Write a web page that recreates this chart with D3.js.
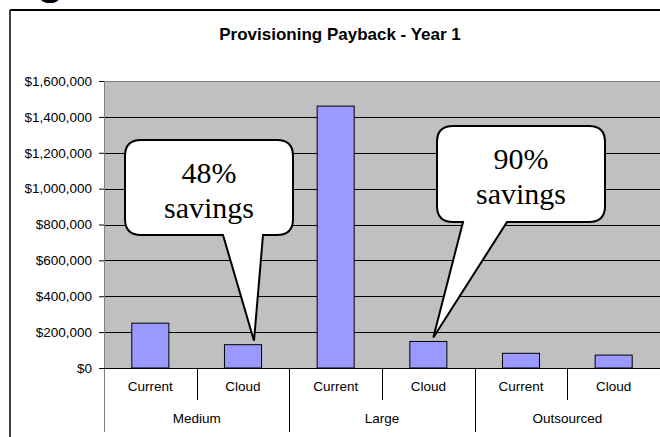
<!DOCTYPE html>
<html><head><meta charset="utf-8">
<script src="https://cdn.jsdelivr.net/npm/d3@7"></script>
<style>body{margin:0;background:#fff}svg{display:block}</style>
</head><body>
<svg id="chart" width="660" height="437"></svg>
<script>
const categories = ["Current","Cloud","Current","Cloud","Current","Cloud"];
const groups = ["Medium","Large","Outsourced"];
const values = [250000,130000,1460000,148000,82000,72000];
const yTicks = [0,200000,400000,600000,800000,1000000,1200000,1400000,1600000];
const title = "Provisioning Payback - Year 1";
const calloutBars = [1,3];
const calloutLines = [["48%","savings"],["90%","savings"]];

const svg = d3.select("#chart");
const W = 660, H = 437;
const L = 104, R = 660, T = 81, B = 368;
const sans = "'Liberation Sans', Arial, sans-serif";

// partial slide title glyph at the very top
svg.append("text").attr("x",37).attr("y",-6).attr("font-family",sans).attr("font-weight","bold")
  .attr("font-size",44).attr("fill","#000").text("g");

// chart frame
svg.append("line").attr("x1",10).attr("x2",W).attr("y1",10).attr("y2",10).attr("stroke","#000").attr("stroke-width",2);
svg.append("line").attr("x1",10).attr("x2",10).attr("y1",10).attr("y2",H).attr("stroke","#000").attr("stroke-width",1.5);

svg.append("text").attr("x",340).attr("y",40).attr("text-anchor","middle")
  .attr("font-family",sans).attr("font-weight","bold").attr("font-size",17).text(title);

const x = d3.scaleBand().domain(d3.range(categories.length)).range([L,R]).padding(0);
const y = d3.scaleLinear().domain([0,1600000]).range([B,T]);

svg.append("rect").attr("x",L).attr("y",T).attr("width",R-L).attr("height",B-T).attr("fill","#c0c0c0");
svg.append("line").attr("x1",L).attr("x2",R).attr("y1",T+0.5).attr("y2",T+0.5).attr("stroke","#808080");

// gridlines
svg.append("g").selectAll("line").data(yTicks.filter(d=>d>0 && d<1600000)).join("line")
  .attr("x1",L).attr("x2",R).attr("y1",d=>Math.round(y(d))+0.5).attr("y2",d=>Math.round(y(d))+0.5)
  .attr("stroke","#000").attr("stroke-width",1);

// y axis
const yAxis = d3.axisLeft(y).tickValues(yTicks).tickSize(5).tickPadding(7)
  .tickFormat(d=>"$"+d3.format(",")(d));
const ya = svg.append("g").attr("transform",`translate(${L},0)`).call(yAxis);
ya.select(".domain").remove();
ya.selectAll(".tick line").attr("stroke","#000");
ya.selectAll(".tick text").attr("font-family",sans).attr("font-size",13.5).attr("fill","#000");
svg.append("line").attr("x1",L+0.5).attr("x2",L+0.5).attr("y1",T).attr("y2",432).attr("stroke","#808080");

// bars
const bw = x.bandwidth()/2.5;
svg.append("g").selectAll("rect").data(values).join("rect")
  .attr("x",(d,i)=>x(i)+(x.bandwidth()-bw)/2).attr("y",d=>y(d))
  .attr("width",bw).attr("height",d=>B-y(d))
  .attr("fill","#9999ff").attr("stroke","#000").attr("stroke-width",1);

// x axis
svg.append("line").attr("x1",L).attr("x2",R).attr("y1",B+0.5).attr("y2",B+0.5).attr("stroke","#000");
const xa = svg.append("g");
categories.forEach((c,i)=>{
  if(i>0){
    const major = i%2===0;
    xa.append("line").attr("x1",Math.round(x(i))+0.5).attr("x2",Math.round(x(i))+0.5)
      .attr("y1",B).attr("y2",major?432:400).attr("stroke","#000");
  }
  xa.append("text").attr("x",x(i)+x.bandwidth()/2).attr("y",391).attr("text-anchor","middle")
    .attr("font-family",sans).attr("font-size",13.5).text(c);
});
groups.forEach((g,j)=>{
  const cx = (x(j*2)+x(j*2+1)+x.bandwidth())/2;
  xa.append("text").attr("x",cx).attr("y",423).attr("text-anchor","middle")
    .attr("font-family",sans).attr("font-size",13.5).text(g);
});

// callouts
const boxes = [{x0:125,y0:140,w:168,h:95,b1:223,b2:263,dx:11},{x0:437,y0:126,w:168,h:96,b1:463,b2:507,dx:5}];
function bubble(b,tx,ty){
  const r=16,x0=b.x0,y0=b.y0,x1=b.x0+b.w,y1=b.y0+b.h;
  return `M${x0+r},${y0}H${x1-r}Q${x1},${y0} ${x1},${y0+r}V${y1-r}Q${x1},${y1} ${x1-r},${y1}`+
    `H${b.b2}L${tx},${ty}L${b.b1},${y1}H${x0+r}Q${x0},${y1} ${x0},${y1-r}V${y0+r}Q${x0},${y0} ${x0+r},${y0}Z`;
}
calloutBars.forEach((bi,k)=>{
  const b = boxes[k];
  const tx = x(bi)+x.bandwidth()/2+b.dx, ty = y(values[bi])-4;
  svg.append("path").attr("d",bubble(b,tx,ty)).attr("fill","#fff").attr("stroke","#000").attr("stroke-width",2);
  calloutLines[k].forEach((t,li)=>{
    svg.append("text").attr("x",b.x0+b.w/2).attr("y",b.y0+43+li*35).attr("text-anchor","middle")
      .attr("font-family","'Liberation Serif','Times New Roman',serif").attr("font-size",30).text(t);
  });
});
</script>
</body></html>
